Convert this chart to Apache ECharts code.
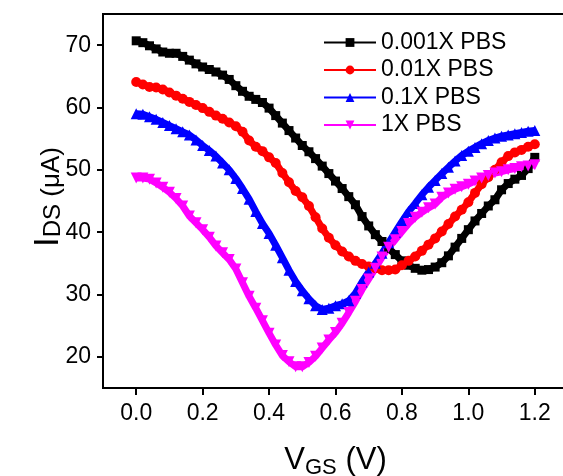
<!DOCTYPE html>
<html><head><meta charset="utf-8">
<script src="https://cdn.jsdelivr.net/npm/echarts@6/dist/echarts.min.js"></script>
<style>html,body{margin:0;padding:0;background:#fff}#c{width:563px;height:476px}</style>
</head><body><div id="c"></div>
<script>
const vgs = [0.00,0.02,0.04,0.06,0.08,0.10,0.12,0.14,0.16,0.18,0.20,0.22,0.24,0.26,0.28,0.30,0.32,0.34,0.36,0.38,0.40,0.42,0.44,0.46,0.48,0.50,0.52,0.54,0.56,0.58,0.60,0.62,0.64,0.66,0.68,0.70,0.72,0.74,0.76,0.78,0.80,0.82,0.84,0.86,0.88,0.90,0.92,0.94,0.96,0.98,1.00,1.02,1.04,1.06,1.08,1.10,1.12,1.14,1.16,1.18,1.20];
const pbs0001 = [70.7,70.4,69.9,69.4,68.9,68.7,68.7,68.2,67.6,67.0,66.5,66.1,65.7,65.2,64.5,63.5,62.6,61.8,61.3,60.8,59.9,58.7,57.5,56.3,55.1,53.9,52.9,51.8,50.6,49.4,48.2,47.0,45.7,44.4,42.5,41.0,39.6,38.5,37.4,36.4,35.4,34.7,34.2,33.9,34.0,34.4,35.1,36.2,37.6,39.0,40.4,41.8,43.0,44.2,45.2,46.8,47.8,48.5,49.1,50.2,52.0];
const pbs001 = [64.1,63.7,63.3,63.2,62.9,62.4,61.9,61.4,60.9,60.4,59.9,59.3,58.7,58.2,57.6,57.0,56.1,54.7,53.7,53.0,52.0,51.1,49.5,48.0,46.6,45.6,44.2,42.4,40.6,39.1,37.9,36.9,36.1,35.4,34.9,34.5,34.2,33.9,33.9,34.0,34.7,35.4,36.1,37.0,38.0,39.0,40.1,41.3,42.5,43.6,44.8,46.3,47.7,48.8,50.0,51.2,52.2,52.8,53.2,53.7,54.1];
const pbs01 = [59.0,58.9,58.5,58.1,57.6,57.1,56.6,56.1,55.6,54.8,53.9,53.1,52.2,51.1,50.0,48.6,47.0,45.3,43.3,41.4,39.8,37.9,35.9,33.9,32.1,30.6,29.3,28.2,27.6,27.8,28.2,28.5,29.0,30.2,32.0,33.6,35.0,36.6,38.3,40.0,41.7,43.3,44.6,46.0,47.2,48.3,49.4,50.4,51.4,52.3,53.0,53.6,54.2,54.7,55.1,55.4,55.6,55.8,56.0,56.2,56.3];
const pbs1 = [48.7,48.7,48.5,47.9,47.2,46.4,45.4,44.2,42.6,41.5,40.4,39.2,37.8,36.7,35.6,34.1,31.9,29.7,27.8,25.8,23.8,21.9,20.2,19.2,18.4,18.4,19.1,20.1,21.4,22.7,23.9,25.4,27.1,28.9,30.8,32.5,34.2,36.0,37.6,38.8,40.1,41.4,42.4,43.2,43.9,44.5,45.6,46.3,46.9,47.3,47.7,48.2,48.7,49.1,49.5,49.7,50.0,50.2,50.5,50.6,50.8];
const seriesNames = ['0.001X PBS','0.01X PBS','0.1X PBS','1X PBS'];
const xTicks = [0.0,0.2,0.4,0.6,0.8,1.0,1.2];
const yTicks = [20,30,40,50,60,70];

const F = '"Liberation Sans", Arial, sans-serif';
const colors = ['#000000','#ff0000','#0000ff','#ff00ff'];
const symbols = ['rect','circle','triangle','path://M0,0 L10,0 L5,10 Z'];
const sizes = [9,10,11,11];
const values = [pbs0001,pbs001,pbs01,pbs1];

function pairs(ys){ return vgs.map((x,i)=>[x,ys[i]]); }

const chart = echarts.init(document.getElementById('c'), null, {renderer:'canvas'});
chart.setOption({
  animation:false,
  backgroundColor:'#fff',
  grid:{left:103, top:14, right:-5, bottom:88, show:true, borderColor:'#000', borderWidth:2, backgroundColor:'transparent', outerBoundsMode:'none', containLabel:false},
  legend:{
    orient:'vertical', left:318, top:26, itemWidth:52, itemHeight:11, itemGap:4.5,
    data:seriesNames,
    lineStyle:{width:2},
    textStyle:{fontFamily:F, fontSize:23, color:'#000'}
  },
  xAxis:{
    type:'value', min:-0.1, max:1.3,
    axisLine:{show:true, onZero:false, lineStyle:{color:'#000', width:2}},
    axisTick:{show:true, inside:false, length:7, lineStyle:{color:'#000', width:2}, customValues:xTicks},
    axisLabel:{customValues:xTicks, margin:14, color:'#000', fontFamily:F, fontSize:23, formatter:v=>v.toFixed(1)},
    splitLine:{show:false},
    name:'{v|V}{s|GS}{v| (V)}', nameLocation:'middle', nameGap:57,
    nameTextStyle:{rich:{
      v:{fontFamily:F, fontSize:31, color:'#000', verticalAlign:'top'},
      s:{fontFamily:F, fontSize:22, color:'#000', verticalAlign:'bottom', padding:[12,0,0,0]}
    }}
  },
  yAxis:{
    type:'value', min:15, max:75,
    axisLine:{show:true, onZero:false, lineStyle:{color:'#000', width:2}},
    axisTick:{show:true, inside:false, length:6, lineStyle:{color:'#000', width:2}, customValues:yTicks},
    axisLabel:{customValues:yTicks, margin:12, color:'#000', fontFamily:F, fontSize:23},
    splitLine:{show:false},
    name:'{v|I}{s|DS}{u| (μA)}', nameLocation:'middle', nameGap:37, nameMoveOverlap:false,
    nameTextStyle:{padding:[0,0,0,8], rich:{
      v:{fontFamily:F, fontSize:35, color:'#000', verticalAlign:'bottom'},
      s:{fontFamily:F, fontSize:24, color:'#000', verticalAlign:'bottom', padding:[0,0,1,0]},
      u:{fontFamily:F, fontSize:26, color:'#000', verticalAlign:'bottom', padding:[0,0,1,0]}
    }}
  },
  series: values.map((ys,k)=>({
    name:seriesNames[k], type:'line', data:pairs(ys),
    symbol:symbols[k], symbolSize:sizes[k], showSymbol:true,
    itemStyle:{color:colors[k]},
    lineStyle:{color:colors[k], width:7},
    emphasis:{disabled:true}
  }))
});
</script></body></html>
